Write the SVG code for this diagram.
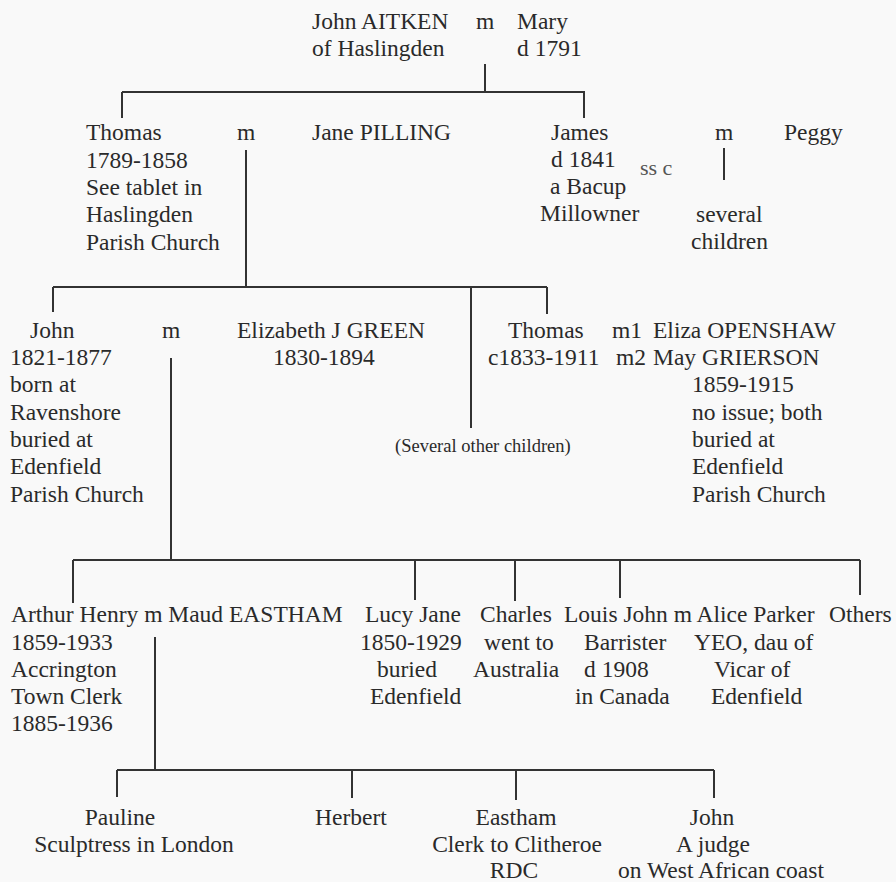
<svg xmlns="http://www.w3.org/2000/svg" width="896" height="882" viewBox="0 0 896 882">
<style>
text{font-family:"Liberation Serif","Times New Roman",serif;font-size:23.5px;fill:#2a2a2a}
.s{font-size:18.5px}
.f{font-size:22px;fill:#555}
.c{text-anchor:middle}
#connectors path{fill:none;stroke:#333;stroke-width:2}
</style>
<rect width="896" height="882" fill="#f9f9f9"/>
<g id="connectors">
<path d="M485 64V92M122 92H585M122 92V118M584 92V118"/>
<path d="M724 148V180"/>
<path d="M246 150V287M53 287H547M53 287V312M471 287V428M547 287V314"/>
<path d="M171 358V560M73 560H860M73 560V603M415 560V600M515 560V601M620 560V598M860 560V595"/>
<path d="M155 637V770M117 770H714M117 770V797M352 770V798M516 770V800M714 770V798"/>
</g>
<g id="john-aitken"><text x="312" y="29">John AITKEN</text><text x="312" y="56">of Haslingden</text></g>
<g id="m1"><text x="476" y="29">m</text></g>
<g id="mary"><text x="517" y="29">Mary</text><text x="517" y="56">d 1791</text></g>
<g id="thomas-sr"><text x="86" y="140">Thomas</text><text x="86" y="168">1789-1858</text><text x="86" y="195">See tablet in</text><text x="86" y="222">Haslingden</text><text x="86" y="250">Parish Church</text></g>
<g id="m2"><text x="237" y="140">m</text></g>
<g id="jane-pilling"><text x="312" y="140">Jane PILLING</text></g>
<g id="james"><text x="551" y="140">James</text><text x="551" y="167">d 1841</text><text x="550" y="194">a Bacup</text><text x="540" y="221">Millowner</text></g>
<g id="ssc"><text class="f" x="640" y="175">ss c</text></g>
<g id="m3"><text x="715" y="140">m</text></g>
<g id="peggy"><text x="784" y="140">Peggy</text></g>
<g id="several-children"><text x="696" y="222">several</text><text x="691" y="249">children</text></g>
<g id="john"><text x="30" y="338">John</text><text x="10" y="365">1821-1877</text><text x="10" y="392">born at</text><text x="10" y="420">Ravenshore</text><text x="10" y="447">buried at</text><text x="10" y="474">Edenfield</text><text x="10" y="502">Parish Church</text></g>
<g id="m4"><text x="162" y="338">m</text></g>
<g id="elizabeth"><text x="237" y="338">Elizabeth J GREEN</text><text x="273" y="365">1830-1894</text></g>
<g id="several-other"><text class="s" x="395" y="452">(Several other children)</text></g>
<g id="thomas-jr"><text x="508" y="338">Thomas</text><text x="488" y="365">c1833-1911</text></g>
<g id="wives"><text x="612" y="338">m1</text><text x="653" y="338">Eliza OPENSHAW</text><text x="616" y="365">m2</text><text x="653" y="365">May GRIERSON</text><text x="692" y="392">1859-1915</text><text x="692" y="420">no issue; both</text><text x="692" y="447">buried at</text><text x="692" y="474">Edenfield</text><text x="692" y="502">Parish Church</text></g>
<g id="arthur"><text x="11" y="622">Arthur Henry m Maud EASTHAM</text><text x="11" y="650">1859-1933</text><text x="11" y="677">Accrington</text><text x="11" y="704">Town Clerk</text><text x="11" y="731">1885-1936</text></g>
<g id="lucy"><text x="365" y="622">Lucy Jane</text><text x="360" y="650">1850-1929</text><text x="377" y="677">buried</text><text x="370" y="704">Edenfield</text></g>
<g id="charles"><text x="480" y="622">Charles</text><text x="484" y="650">went to</text><text x="473" y="677">Australia</text></g>
<g id="louis"><text x="564" y="622">Louis John m Alice Parker</text><text x="584" y="650">Barrister</text><text x="584" y="677">d 1908</text><text x="575" y="704">in Canada</text><text x="694" y="650">YEO, dau of</text><text x="714" y="677">Vicar of</text><text x="711" y="704">Edenfield</text></g>
<g id="others"><text x="829" y="622">Others</text></g>
<g id="pauline"><text class="c" x="120" y="825">Pauline</text><text class="c" x="134" y="852">Sculptress in London</text></g>
<g id="herbert"><text class="c" x="351" y="825">Herbert</text></g>
<g id="eastham"><text class="c" x="516" y="825">Eastham</text><text class="c" x="517" y="852">Clerk to Clitheroe</text><text class="c" x="514" y="878">RDC</text></g>
<g id="john-judge"><text class="c" x="712" y="825">John</text><text class="c" x="713" y="852">A judge</text><text class="c" x="721" y="878">on West African coast</text></g>
</svg>
